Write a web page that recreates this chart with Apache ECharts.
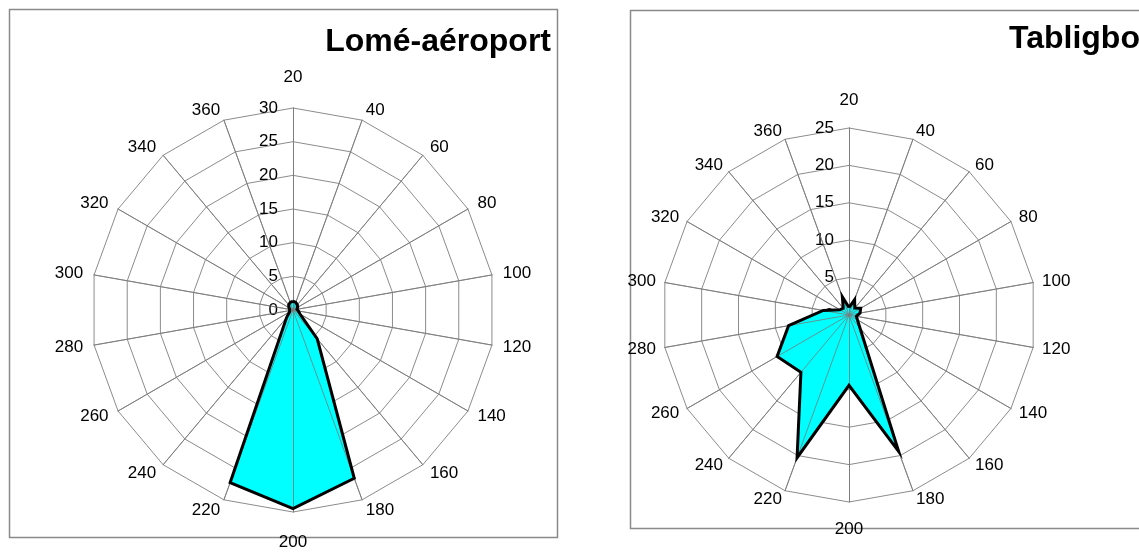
<!DOCTYPE html>
<html><head><meta charset="utf-8">
<script src="https://cdn.jsdelivr.net/npm/echarts@6/dist/echarts.min.js"></script>
<style>html,body{margin:0;padding:0;background:#fff}#c{width:1139px;height:552px}</style>
</head><body><div id="c"></div>
<script>
// wind directions (degrees), clockwise from the top spoke
const directions = ['20','40','60','80','100','120','140','160','180','200','220','240','260','280','300','320','340','360'];
// frequencies (%) per direction
const lomeValues     = [1.3, 1.2, 1.0, 0.8, 0.6, 0.8, 1.2, 5.6, 26.6, 29.5, 27.3, 1.5, 0.6, 0.5, 0.5, 0.7, 1.0, 1.2];
const tabligboValues = [1.0, 2.2, 1.2, 1.8, 1.5, 1.0, 1.3, 2.3, 19.4, 9.4, 20.3, 10.0, 11.1, 8.2, 3.5, 1.4, 1.2, 2.6];
// radial tick labels
const lomeTicks     = [0, 5, 10, 15, 20, 25, 30];
const tabligboTicks = [0, 5, 10, 15, 20, 25];
const titles = ['Lomé-aéroport', 'Tabligbo'];

const FONT = "'Liberation Sans', Arial, Helvetica, sans-serif";
// ECharts radar runs counter-clockwise; reorder so directions run clockwise
const order = [0].concat(directions.map((d, i) => i).slice(1).reverse());

function indicators(ticks, sideGap, vertGap) {
  const max = ticks[ticks.length - 1];
  return order.map((i, k) => {
    const ind = { name: directions[i], max: max, min: ticks[0] };
    ind.nameGap = (directions[i] === '20' || directions[i] === '200') ? vertGap : sideGap;
    if (k !== 0) ind.axisLabel = { show: false };
    return ind;
  });
}

function radarBase(center, radius, ticks, sideGap, vertGap) {
  return {
    center: center, radius: radius, shape: 'polygon', startAngle: 90,
    splitNumber: ticks.length - 1,
    indicator: indicators(ticks, sideGap, vertGap),
    axisName: { color: '#000', fontSize: 17, fontFamily: FONT },
    axisLine: { show: true, lineStyle: { color: '#8c8c8c', width: 1 } },
    splitLine: { show: true, lineStyle: { color: '#8c8c8c', width: 1 } },
    splitArea: { show: false },
    axisTick: { show: false },
    axisLabel: { show: true, color: '#000', fontSize: 17, fontFamily: FONT, margin: 15 }
  };
}
function radarOverlay(center, radius, ticks) {
  return {
    center: center, radius: radius, shape: 'polygon', startAngle: 90, z: 5,
    splitNumber: ticks.length - 1,
    indicator: order.map(i => ({ name: directions[i], max: ticks[ticks.length - 1], min: 0, axisLabel: { show: false } })),
    axisName: { show: false },
    axisLine: { show: true, lineStyle: { color: '#7a7a7a', width: 0.8 } },
    splitLine: { show: false }, splitArea: { show: false },
    axisTick: { show: false }, axisLabel: { show: false }
  };
}

const L = { center: [293, 310], radius: 202 };
const R = { center: [849, 315], radius: 187 };

const chart = echarts.init(document.getElementById('c'), null, { renderer: 'canvas' });
chart.setOption({
  backgroundColor: '#fff',
  animation: false,
  graphic: [
    { type: 'rect', shape: { x: 9.5, y: 9.5, width: 548, height: 528 }, style: { fill: 'none', stroke: '#8a8a8a', lineWidth: 1.5 }, z: 0 },
    { type: 'rect', shape: { x: 630.5, y: 10.5, width: 520, height: 518 }, style: { fill: 'none', stroke: '#8a8a8a', lineWidth: 1.5 }, z: 0 }
  ],
  title: [
    { text: titles[0], right: 588, top: 26, padding: 0, textStyle: { fontSize: 32, fontWeight: 'bold', color: '#000', fontFamily: FONT } },
    { text: titles[1], left: 1009, top: 23, padding: 0, textStyle: { fontSize: 32, fontWeight: 'bold', color: '#000', fontFamily: FONT } }
  ],
  radar: [
    radarBase(L.center, L.radius, lomeTicks, 11, 22),
    radarBase(R.center, R.radius, tabligboTicks, 9, 19),
    radarOverlay(L.center, L.radius, lomeTicks),
    radarOverlay(R.center, R.radius, tabligboTicks)
  ],
  series: [
    { type: 'radar', radarIndex: 0, symbol: 'none', z: 6,
      lineStyle: { color: '#000', width: 3, join: 'miter' }, areaStyle: { opacity: 0 },
      data: [{ value: order.map(i => lomeValues[i]), name: titles[0] }] },
    { type: 'radar', radarIndex: 1, symbol: 'none', z: 6,
      lineStyle: { color: '#000', width: 3, join: 'miter' }, areaStyle: { opacity: 0 },
      data: [{ value: order.map(i => tabligboValues[i]), name: titles[1] }] },
    { type: 'radar', radarIndex: 0, symbol: 'none', z: 2,
      lineStyle: { width: 0 }, areaStyle: { color: '#00ffff', opacity: 1 },
      data: [{ value: order.map(i => lomeValues[i]), name: titles[0] }] },
    { type: 'radar', radarIndex: 1, symbol: 'none', z: 2,
      lineStyle: { width: 0 }, areaStyle: { color: '#00ffff', opacity: 1 },
      data: [{ value: order.map(i => tabligboValues[i]), name: titles[1] }] }
  ]
});
</script></body></html>
